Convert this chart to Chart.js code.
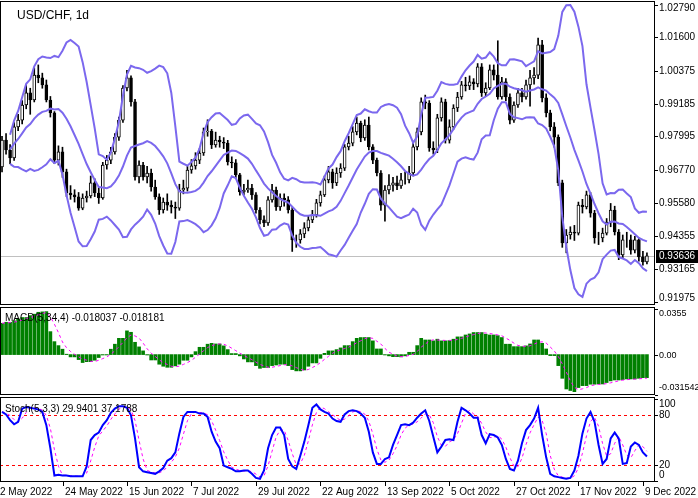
<!DOCTYPE html>
<html>
<head>
<meta charset="utf-8">
<script src="https://cdn.jsdelivr.net/npm/chart.js@4/dist/chart.umd.min.js"></script>
<style>
  html, body { margin: 0; padding: 0; background: #fff; }
  #wrap { position: relative; width: 698px; height: 498px; overflow: hidden; }
  canvas { position: absolute; left: 0; }
</style>
</head>
<body>
<div id="wrap">
  <canvas id="main" width="698" height="306" style="top:0"></canvas>
  <canvas id="macd" width="698" height="89" style="top:307px"></canvas>
  <canvas id="stoch" width="698" height="101" style="top:397px"></canvas>
</div>
<script>
// daily USD/CHF candles, 2 May – 9 Dec 2022
const opens = [0.9688,0.9786,0.9750,0.9721,0.9834,0.9859,0.9914,0.9958,0.9932,1.0023,
  1.0013,0.9987,0.9932,0.9885,0.9713,0.9743,0.9670,0.9593,0.9586,0.9579,
  0.9538,0.9575,0.9582,0.9630,0.9593,0.9575,0.9695,0.9713,0.9743,0.9797,
  0.9859,0.9976,1.0013,0.9925,0.9652,0.9695,0.9652,0.9666,0.9615,0.9579,
  0.9531,0.9560,0.9549,0.9542,0.9538,0.9604,0.9611,0.9677,0.9692,0.9713,
  0.9739,0.9816,0.9819,0.9768,0.9786,0.9779,0.9775,0.9706,0.9703,0.9659,
  0.9597,0.9604,0.9611,0.9586,0.9531,0.9495,0.9484,0.9568,0.9604,0.9542,
  0.9575,0.9568,0.9531,0.9422,0.9422,0.9444,0.9466,0.9495,0.9513,0.9557,
  0.9586,0.9641,0.9670,0.9630,0.9666,0.9684,0.9761,0.9775,0.9816,0.9848,
  0.9794,0.9841,0.9761,0.9713,0.9666,0.9549,0.9604,0.9622,0.9630,0.9619,
  0.9641,0.9641,0.9666,0.9761,0.9816,0.9925,0.9921,0.9757,0.9750,0.9867,
  0.9925,0.9786,0.9834,0.9903,0.9943,0.9987,0.9983,0.9998,0.9991,1.0053,
  0.9958,0.9976,1.0042,1.0023,0.9943,0.9998,0.9943,0.9859,0.9914,0.9958,
  0.9943,0.9987,1.0013,1.0023,1.0133,0.9940,0.9885,0.9834,0.9797,0.9630,
  0.9411,0.9440,0.9451,0.9447,0.9549,0.9542,0.9586,0.9520,0.9429,0.9429,
  0.9447,0.9487,0.9531,0.9451,0.9367,0.9422,0.9422,0.9385,0.9422,0.9360,
  0.9342];
const closes = [0.9786,0.9750,0.9721,0.9834,0.9859,0.9914,0.9958,0.9932,1.0023,1.0013,
  0.9987,0.9932,0.9885,0.9713,0.9743,0.9670,0.9593,0.9586,0.9579,0.9538,
  0.9575,0.9582,0.9630,0.9593,0.9575,0.9695,0.9713,0.9743,0.9797,0.9859,
  0.9976,1.0013,0.9925,0.9652,0.9695,0.9652,0.9666,0.9615,0.9579,0.9531,
  0.9560,0.9549,0.9542,0.9538,0.9604,0.9611,0.9677,0.9692,0.9713,0.9739,
  0.9816,0.9819,0.9768,0.9786,0.9779,0.9775,0.9706,0.9703,0.9659,0.9597,
  0.9604,0.9611,0.9586,0.9531,0.9495,0.9484,0.9568,0.9604,0.9542,0.9575,
  0.9568,0.9531,0.9422,0.9422,0.9444,0.9466,0.9495,0.9513,0.9557,0.9586,
  0.9641,0.9670,0.9630,0.9666,0.9684,0.9761,0.9775,0.9816,0.9848,0.9794,
  0.9841,0.9761,0.9713,0.9666,0.9549,0.9604,0.9622,0.9630,0.9619,0.9641,
  0.9641,0.9666,0.9761,0.9816,0.9925,0.9921,0.9757,0.9750,0.9867,0.9925,
  0.9786,0.9834,0.9903,0.9943,0.9987,0.9983,0.9998,0.9991,1.0053,0.9958,
  0.9976,1.0042,1.0023,0.9943,0.9998,0.9943,0.9859,0.9914,0.9958,0.9943,
  0.9987,1.0013,1.0023,1.0133,0.9940,0.9885,0.9834,0.9797,0.9630,0.9411,
  0.9440,0.9451,0.9447,0.9549,0.9542,0.9586,0.9520,0.9429,0.9429,0.9447,
  0.9487,0.9531,0.9451,0.9367,0.9422,0.9422,0.9385,0.9422,0.9360,0.9342,
  0.93636];
const highs = [0.9800,0.9810,0.9770,0.9850,0.9880,0.9930,0.9985,0.9975,1.0049,1.0060,
  1.0030,1.0005,0.9945,0.9890,0.9765,0.9760,0.9680,0.9620,0.9605,0.9595,
  0.9590,0.9600,0.9655,0.9645,0.9615,0.9705,0.9730,0.9760,0.9810,0.9870,
  0.9985,1.0040,1.0020,0.9935,0.9710,0.9705,0.9690,0.9680,0.9640,0.9590,
  0.9575,0.9590,0.9565,0.9560,0.9625,0.9640,0.9690,0.9715,0.9740,0.9755,
  0.9830,0.9860,0.9825,0.9815,0.9800,0.9795,0.9785,0.9725,0.9715,0.9665,
  0.9625,0.9640,0.9625,0.9595,0.9540,0.9510,0.9580,0.9625,0.9615,0.9590,
  0.9590,0.9580,0.9540,0.9440,0.9460,0.9485,0.9510,0.9530,0.9570,0.9600,
  0.9655,0.9690,0.9680,0.9685,0.9700,0.9770,0.9800,0.9835,0.9870,0.9855,
  0.9860,0.9870,0.9770,0.9720,0.9675,0.9620,0.9660,0.9650,0.9655,0.9665,
  0.9670,0.9690,0.9775,0.9830,0.9940,0.9950,0.9930,0.9780,0.9880,0.9940,
  0.9935,0.9860,0.9915,0.9960,1.0000,1.0015,1.0020,1.0010,1.0065,1.0065,
  0.9995,1.0060,1.0060,1.0148,1.0015,1.0010,0.9955,0.9925,0.9975,0.9975,
  1.0005,1.0040,1.0050,1.0158,1.0150,0.9955,0.9895,0.9850,0.9805,0.9640,
  0.9460,0.9470,0.9475,0.9560,0.9570,0.9600,0.9595,0.9530,0.9450,0.9465,
  0.9500,0.9555,0.9545,0.9460,0.9440,0.9450,0.9440,0.9435,0.9430,0.9380,
  0.9375];
const lows = [0.9670,0.9735,0.9700,0.9712,0.9820,0.9845,0.9900,0.9880,0.9925,0.9995,
  0.9975,0.9925,0.9870,0.9700,0.9695,0.9650,0.9580,0.9570,0.9560,0.9530,
  0.9532,0.9560,0.9575,0.9580,0.9555,0.9570,0.9680,0.9700,0.9735,0.9785,
  0.9850,0.9965,0.9910,0.9640,0.9630,0.9640,0.9630,0.9600,0.9570,0.9515,
  0.9520,0.9530,0.9520,0.9500,0.9530,0.9590,0.9600,0.9665,0.9680,0.9700,
  0.9730,0.9800,0.9755,0.9760,0.9760,0.9755,0.9695,0.9685,0.9645,0.9585,
  0.9585,0.9595,0.9570,0.9520,0.9480,0.9470,0.9475,0.9560,0.9530,0.9530,
  0.9545,0.9520,0.9380,0.9395,0.9410,0.9430,0.9455,0.9485,0.9505,0.9545,
  0.9580,0.9630,0.9610,0.9620,0.9650,0.9675,0.9750,0.9765,0.9805,0.9780,
  0.9785,0.9750,0.9700,0.9655,0.9530,0.9490,0.9590,0.9600,0.9605,0.9610,
  0.9625,0.9630,0.9655,0.9750,0.9805,0.9900,0.9745,0.9735,0.9740,0.9855,
  0.9775,0.9775,0.9825,0.9890,0.9935,0.9965,0.9970,0.9970,0.9980,0.9945,
  0.9945,0.9970,1.0005,0.9935,0.9935,0.9930,0.9845,0.9850,0.9905,0.9925,
  0.9935,0.9910,0.9990,1.0010,0.9925,0.9870,0.9820,0.9760,0.9620,0.9395,
  0.9375,0.9425,0.9420,0.9440,0.9520,0.9535,0.9505,0.9410,0.9405,0.9415,
  0.9440,0.9470,0.9440,0.9350,0.9355,0.9395,0.9370,0.9375,0.9345,0.9330,
  0.9335];

// MACD(5,34,4) histogram, read bar by bar
const macdHist = [0.0244,0.0252,0.0252,0.0263,0.0278,0.0289,0.0289,0.0304,0.0315,0.0330,
  0.0333,0.0335,0.0179,0.0101,0.0070,0.0042,0.0003,-0.0018,-0.0018,-0.0039,
  -0.0062,-0.0055,-0.0055,-0.0044,-0.0023,-0.0003,-0.0003,0.0042,0.0081,0.0127,
  0.0127,0.0185,0.0174,0.0096,0.0060,0.0029,-0.0003,-0.0042,-0.0042,-0.0075,
  -0.0091,-0.0099,-0.0099,-0.0088,-0.0075,-0.0044,-0.0044,-0.0018,0.0023,0.0057,
  0.0057,0.0081,0.0088,0.0083,0.0083,0.0068,0.0039,0.0008,0.0008,-0.0010,
  -0.0034,-0.0057,-0.0057,-0.0086,-0.0107,-0.0101,-0.0101,-0.0086,-0.0081,-0.0075,
  -0.0075,-0.0086,-0.0117,-0.0127,-0.0127,-0.0120,-0.0091,-0.0065,-0.0065,-0.0029,
  0.0010,0.0029,0.0029,0.0039,0.0052,0.0070,0.0070,0.0101,0.0127,0.0133,
  0.0133,0.0133,0.0107,0.0044,0.0044,-0.0003,-0.0010,-0.0016,-0.0016,-0.0018,
  -0.0010,0.0018,0.0018,0.0070,0.0127,0.0114,0.0114,0.0107,0.0120,0.0107,
  0.0107,0.0109,0.0120,0.0138,0.0138,0.0153,0.0161,0.0172,0.0172,0.0172,
  0.0159,0.0153,0.0153,0.0148,0.0133,0.0081,0.0081,0.0062,0.0062,0.0062,
  0.0068,0.0083,0.0114,0.0114,0.0088,0.0044,-0.0008,-0.0008,-0.0086,-0.0185,
  -0.0268,-0.0280,-0.0289,-0.0257,-0.0242,-0.0242,-0.0231,-0.0231,-0.0229,-0.0229,
  -0.0218,-0.0205,-0.0198,-0.0198,-0.0195,-0.0190,-0.0190,-0.0190,-0.0185,-0.0180,
  -0.0180];

// Stoch(5,3,3) %K, read bar by bar
const stochK = [84,81,74,69,72,88,90,89,88,87,
  84,68,40,7,8,7,7,6,6,6,
  6,18,50,56,59,68,74,83,88,91,
  91,89,80,52,17,12,11,10,9,12,
  16,25,28,35,58,78,84,84,84,82,
  82,78,60,48,40,19,17,15,12,12,
  13,13,9,4,3,13,40,56,65,65,
  56,27,18,15,31,48,68,89,93,87,
  84,82,76,73,72,81,85,86,85,82,
  77,60,35,21,21,27,29,44,56,68,
  69,68,71,77,82,86,73,54,35,42,
  50,51,50,72,89,86,82,77,77,56,
  46,57,56,53,44,27,15,13,25,46,
  62,68,76,89,56,29,9,6,5,4,
  3,4,13,31,58,76,84,72,44,21,
  27,52,59,52,21,22,42,47,44,35,
  29.94];

const priceTicks = [1.0279,1.016,1.00375,0.99185,0.97995,0.9677,0.9558,0.94355,0.93165,0.91975];
const macdTicks = [0.0355,0,-0.031542];
const stochTicks = [100,80,20,0];
const stochLevels = [80,20];
const dateLabels = ['2 May 2022','24 May 2022','15 Jun 2022','7 Jul 2022','29 Jul 2022','22 Aug 2022',
  '13 Sep 2022','5 Oct 2022','27 Oct 2022','17 Nov 2022','9 Dec 2022'];
const dateBars = [0,16,32,48,64,80,96,112,128,144,160];

const FONT = '10px "Liberation Sans", Arial, sans-serif';
const BAND = '#7B68EE';

function bollinger(src, period, dev) {
  const up = [], mid = [], lo = [];
  src.forEach((_, i) => {
    if (i < 2) return;
    const w = src.slice(Math.max(0, i - period + 1), i + 1);
    const m = w.reduce((a, b) => a + b, 0) / w.length;
    const sd = Math.sqrt(w.reduce((a, b) => a + (b - m) * (b - m), 0) / w.length);
    mid.push({ x: i, y: m }); up.push({ x: i, y: m + dev * sd }); lo.push({ x: i, y: m - dev * sd });
  });
  return { up, mid, lo };
}

function sma(src, n) {
  return src.map((_, i) => {
    const w = src.slice(Math.max(0, i - n + 1), i + 1);
    return { x: i, y: w.reduce((a, b) => a + b, 0) / w.length };
  });
}

const xScale = { type: 'linear', min: -0.5, max: 162, offset: false, display: false };

function panelPlugin(ticks, fmt, font, extra) {
  return {
    id: 'panel',
    afterDatasetsDraw(chart) {
      const { ctx, chartArea: a, scales } = chart;
      ctx.save();
      ctx.strokeStyle = '#000';
      ctx.lineWidth = 1;
      ctx.strokeRect(a.left + 0.5, a.top + 0.5, a.right - a.left - 1, a.bottom - a.top - 1);
      ctx.font = font;
      ctx.fillStyle = '#000';
      ctx.textBaseline = 'middle';
      ticks.forEach((v) => {
        const y = Math.round(scales.y.getPixelForValue(v)) + 0.5;
        ctx.beginPath(); ctx.moveTo(a.right, y); ctx.lineTo(a.right + 3, y); ctx.stroke();
        const ty = Math.min(Math.max(y, a.top + 7), a.bottom - 7);
        ctx.fillText(fmt(v), a.right + 4, ty);
      });
      if (extra) extra(chart);
      ctx.restore();
    },
  };
}

function baseOptions(yMin, yMax, padTop, padBottom) {
  return {
    responsive: false, animation: false, devicePixelRatio: 1,
    layout: { padding: { left: 0, right: 43, top: padTop, bottom: padBottom } },
    plugins: { legend: { display: false }, tooltip: { enabled: false } },
    scales: { x: xScale, y: { min: yMin, max: yMax, display: false } },
  };
}

// main price panel
const bb = bollinger(closes, 12, 2);
const wickData = closes.map((_, i) => ({ x: i, y: [lows[i], highs[i]] }));
const bodyData = closes.map((c, i) => ({ x: i, y: [opens[i], c] }));
const bodyFill = closes.map((c, i) => (c >= opens[i] ? '#fff' : '#000'));
const last = closes[closes.length - 1];
const bandLine = (data) => ({ type: 'line', data, borderColor: BAND, borderWidth: 2, pointRadius: 0, order: 0 });

new Chart(document.getElementById('main'), {
  type: 'bar',
  data: {
    datasets: [
      { data: wickData, backgroundColor: '#000', barThickness: 1, grouped: false, order: 3 },
      { data: bodyData, backgroundColor: bodyFill, borderColor: '#000', borderWidth: 1, borderSkipped: false,
        barThickness: 3, grouped: false, order: 2 },
      bandLine(bb.up), bandLine(bb.mid), bandLine(bb.lo),
    ],
  },
  options: baseOptions(0.91848, 1.0293, 1, 1),
  plugins: [
    { id: 'lastLine', beforeDatasetsDraw(chart) {
      const { ctx, chartArea: a, scales } = chart;
      const y = Math.round(scales.y.getPixelForValue(last)) + 0.5;
      ctx.save(); ctx.strokeStyle = '#C0C0C0'; ctx.lineWidth = 1;
      ctx.beginPath(); ctx.moveTo(a.left, y); ctx.lineTo(a.right, y); ctx.stroke(); ctx.restore();
    } },
    panelPlugin(priceTicks, (v) => v.toFixed(5), FONT, (chart) => {
      const { ctx, chartArea: a, scales } = chart;
      const y = Math.round(scales.y.getPixelForValue(last));
      ctx.fillStyle = '#000'; ctx.fillRect(a.right + 1, y - 6, 42, 13);
      ctx.fillStyle = '#fff'; ctx.fillText(last.toFixed(5), a.right + 4, y + 0.5);
      ctx.fillStyle = '#000'; ctx.font = '12px "Liberation Sans", Arial, sans-serif';
      ctx.fillText('USD/CHF, 1d', 17, 16);
    }),
  ],
});

// MACD panel
new Chart(document.getElementById('macd'), {
  type: 'bar',
  data: {
    datasets: [
      { data: macdHist.map((v, i) => ({ x: i, y: v })), backgroundColor: '#008000', barThickness: 3, grouped: false, order: 2 },
      { type: 'line', data: sma(macdHist, 4), borderColor: '#FF00FF', borderWidth: 1, borderDash: [3, 3],
        pointRadius: 0, order: 1 },
    ],
  },
  options: baseOptions(-0.0315, 0.0371, 0, 1),
  plugins: [panelPlugin(macdTicks, (v) => (v === 0 ? '0.00' : String(v)), '9px "Liberation Sans", Arial, sans-serif', (chart) => {
    const { ctx } = chart;
    ctx.font = FONT; ctx.fillStyle = '#000';
    ctx.fillText('MACD(5,34,4) -0.018037 -0.018181', 5, 11);
  })],
});

// Stochastic panel with the date axis under it
new Chart(document.getElementById('stoch'), {
  type: 'line',
  data: {
    datasets: [
      { data: stochK.map((v, i) => ({ x: i, y: v })), borderColor: '#0000FF', borderWidth: 2, pointRadius: 0, order: 1 },
      { data: sma(stochK, 3), borderColor: '#FF00FF', borderWidth: 1, borderDash: [3, 3], pointRadius: 0, order: 2 },
    ],
  },
  options: baseOptions(-0.9, 102.1, 0, 16),
  plugins: [
    { id: 'levels', beforeDatasetsDraw(chart) {
      const { ctx, chartArea: a, scales } = chart;
      ctx.save(); ctx.strokeStyle = '#FF0000'; ctx.lineWidth = 1; ctx.setLineDash([3, 3]);
      stochLevels.forEach((v) => {
        const y = Math.round(scales.y.getPixelForValue(v)) + 0.5;
        ctx.beginPath(); ctx.moveTo(a.left, y); ctx.lineTo(a.right, y); ctx.stroke();
      });
      ctx.restore();
    } },
    panelPlugin(stochTicks, (v) => String(v), FONT, (chart) => {
      const { ctx, chartArea: a, scales } = chart;
      ctx.font = FONT; ctx.fillStyle = '#000';
      ctx.fillText('Stoch(5,3,3) 29.9401 37.1788', 5, 12);
      ctx.textBaseline = 'top';
      dateBars.forEach((b, k) => {
        const x = Math.round(scales.x.getPixelForValue(b)) - 4;
        ctx.beginPath(); ctx.moveTo(x + 0.5, a.bottom); ctx.lineTo(x + 0.5, a.bottom + 4); ctx.stroke();
        ctx.fillText(dateLabels[k], x + 2, a.bottom + 5);
      });
    }),
  ],
});
</script>
</body>
</html>
